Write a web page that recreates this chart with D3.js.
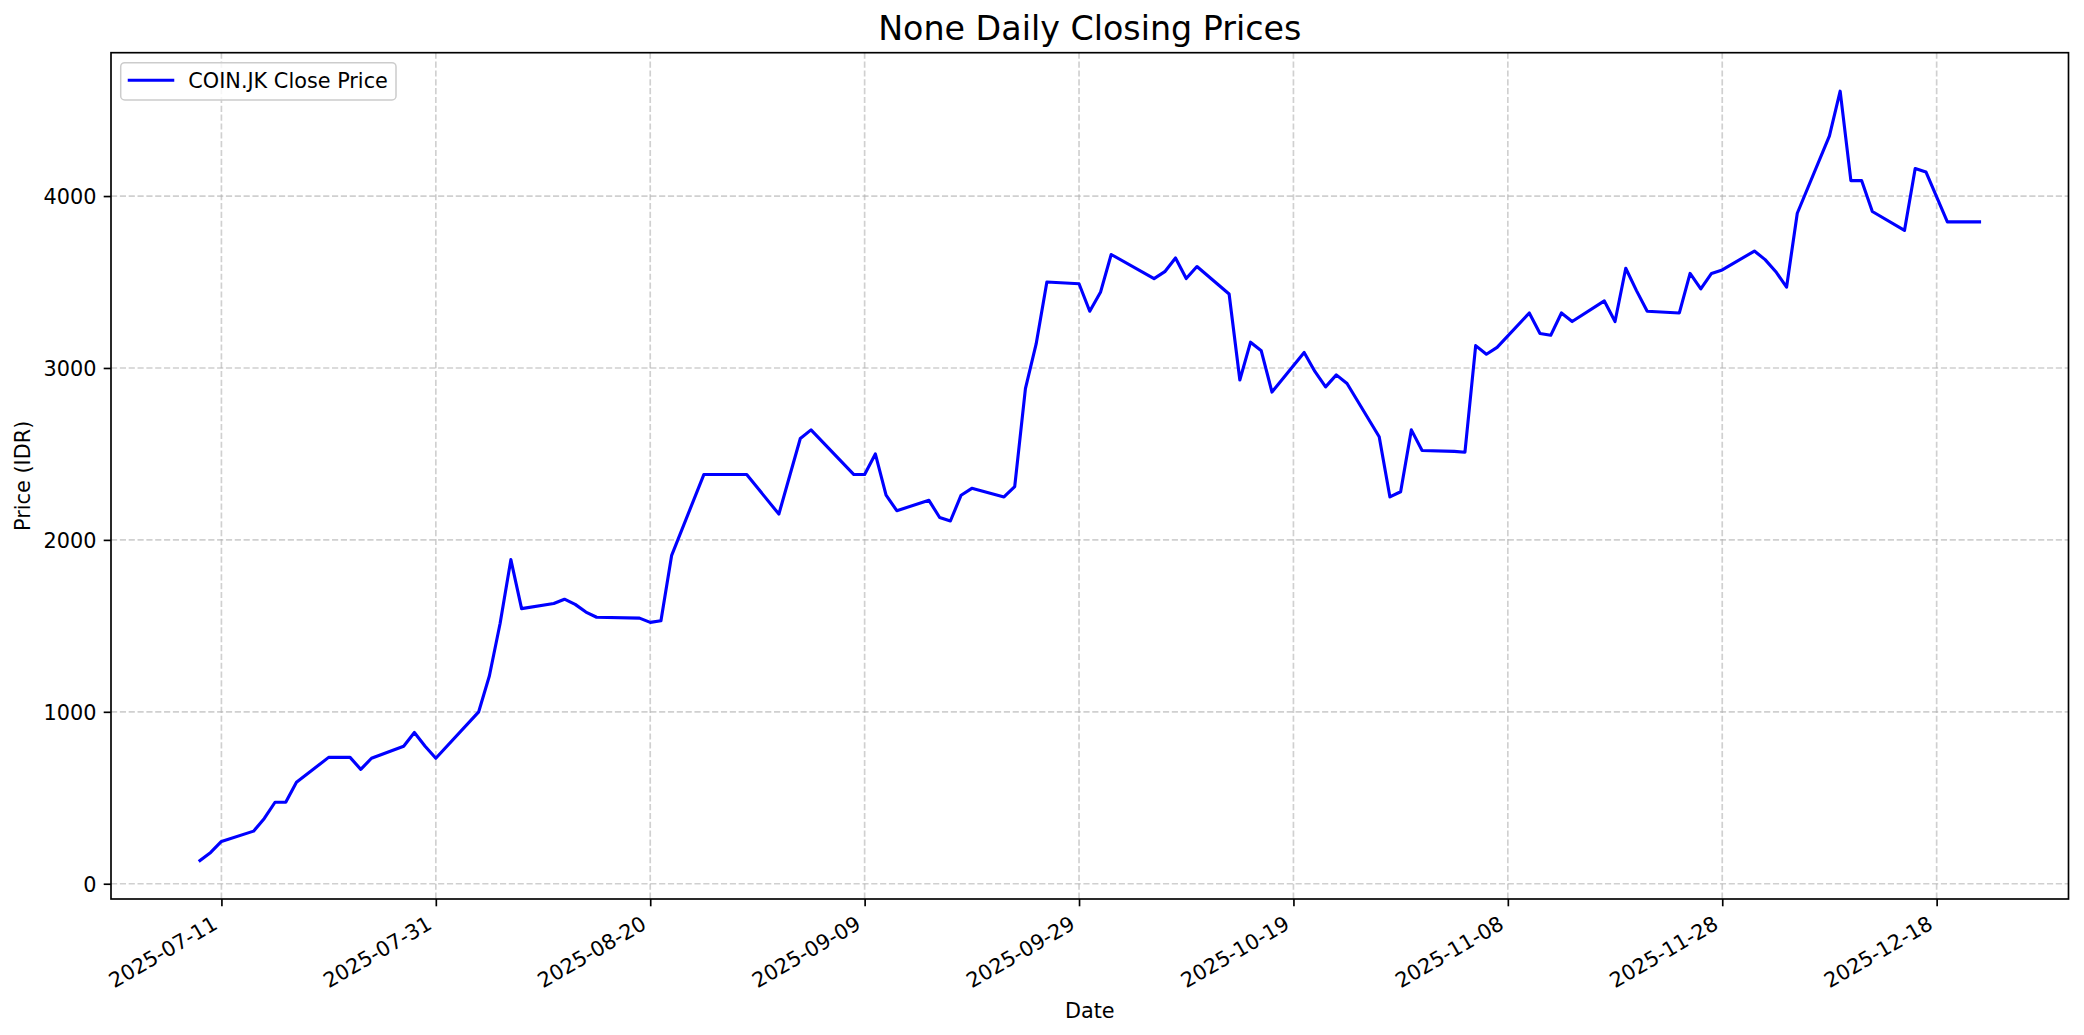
<!DOCTYPE html>
<html><head><meta charset="utf-8">
<script src="https://cdn.jsdelivr.net/npm/d3@7/dist/d3.min.js"></script>
<style>
body{margin:0;background:#fff;}
svg{display:block;}
text{font-family:"DejaVu Sans",sans-serif;fill:#000;}
</style>
</head><body>
<svg id="chart" width="2084" height="1035"></svg>
<script>
const titleText = "None Daily Closing Prices";
const seriesLabel = "COIN.JK Close Price";
const xLabel = "Date";
const yLabel = "Price (IDR)";

const dates = [
"2025-07-09","2025-07-10","2025-07-11","2025-07-14","2025-07-15","2025-07-16","2025-07-17","2025-07-18",
"2025-07-21","2025-07-22","2025-07-23","2025-07-24","2025-07-25","2025-07-28","2025-07-29","2025-07-30","2025-07-31",
"2025-08-04","2025-08-05","2025-08-06","2025-08-07","2025-08-08","2025-08-11","2025-08-12","2025-08-13","2025-08-14","2025-08-15",
"2025-08-19","2025-08-20","2025-08-21","2025-08-22","2025-08-25","2025-08-26","2025-08-27","2025-08-28","2025-08-29",
"2025-09-01","2025-09-02","2025-09-03","2025-09-04","2025-09-08","2025-09-09","2025-09-10","2025-09-11","2025-09-12",
"2025-09-15","2025-09-16","2025-09-17","2025-09-18","2025-09-19","2025-09-22","2025-09-23","2025-09-24","2025-09-25","2025-09-26",
"2025-09-29","2025-09-30","2025-10-01","2025-10-02","2025-10-06","2025-10-07","2025-10-08","2025-10-09","2025-10-10",
"2025-10-13","2025-10-14","2025-10-15","2025-10-16","2025-10-17","2025-10-20","2025-10-21","2025-10-22","2025-10-23","2025-10-24",
"2025-10-27","2025-10-28","2025-10-29","2025-10-30","2025-10-31","2025-11-03","2025-11-04","2025-11-05","2025-11-06","2025-11-07",
"2025-11-10","2025-11-11","2025-11-12","2025-11-13","2025-11-14","2025-11-17","2025-11-18","2025-11-19","2025-11-20","2025-11-21",
"2025-11-24","2025-11-25","2025-11-26","2025-11-27","2025-11-28","2025-12-01","2025-12-02","2025-12-03","2025-12-04","2025-12-05",
"2025-12-08","2025-12-09","2025-12-10","2025-12-11","2025-12-12","2025-12-15","2025-12-16","2025-12-17","2025-12-18","2025-12-19",
"2025-12-22"
];

const closes = [
135,182,246,306,380,474,474,590,
735,735,735,665,730,800,880,800,730,
1000,1210,1515,1885,1600,1630,1655,1625,1580,1550,
1545,1520,1530,1910,2380,2380,2380,2380,2380,
2150,2370,2590,2640,2380,2380,2500,2260,2170,
2230,2130,2110,2260,2300,2250,2310,2880,3140,3500,
3490,3330,3440,3660,3520,3560,3640,3520,3590,
3430,2930,3150,3100,2860,3090,2980,2890,2960,2910,
2600,2250,2280,2640,2520,2515,2510,3130,3080,3120,
3320,3200,3190,3320,3270,3390,3270,3580,3450,3330,
3320,3550,3460,3550,3570,3680,3630,3560,3470,3900,
4350,4610,4090,4090,3910,3800,4160,4140,3995,3850,
3850
];

const yTickValues = [0, 1000, 2000, 3000, 4000];
const xTickLabels = ["2025-07-11","2025-07-31","2025-08-20","2025-09-09","2025-09-29","2025-10-19","2025-11-08","2025-11-28","2025-12-18"];

const parse = d3.utcParse("%Y-%m-%d");
const data = dates.map((d, i) => ({date: parse(d), value: closes[i]}));

const plot = {left: 111, right: 2068.5, top: 52.7, bottom: 899};

const [dMin, dMax] = d3.extent(data, d => d.date);
const dPad = (dMax - dMin) * 0.05;
const x = d3.scaleUtc()
  .domain([new Date(+dMin - dPad), new Date(+dMax + dPad)])
  .range([plot.left, plot.right]);

const [vMin, vMax] = d3.extent(data, d => d.value);
const vPad = (vMax - vMin) * 0.05;
const y = d3.scaleLinear()
  .domain([vMin - vPad, vMax + vPad])
  .range([plot.bottom, plot.top]);

const svg = d3.select("#chart");
svg.append("rect").attr("width", 2084).attr("height", 1035).attr("fill", "#fff");

const xTicks = xTickLabels.map(parse);

// grid
const grid = svg.append("g").attr("stroke", "#b0b0b0").attr("stroke-opacity", 0.6)
  .attr("stroke-width", 1.67).attr("stroke-dasharray", "6.17,2.67");
grid.selectAll("line.v").data(xTicks).join("line").attr("class", "v")
  .attr("x1", d => x(d)).attr("x2", d => x(d))
  .attr("y1", plot.top).attr("y2", plot.bottom);
grid.selectAll("line.h").data(yTickValues).join("line").attr("class", "h")
  .attr("x1", plot.left).attr("x2", plot.right)
  .attr("y1", d => y(d)).attr("y2", d => y(d));

// line
const line = d3.line().x(d => x(d.date)).y(d => y(d.value));
svg.append("path").datum(data)
  .attr("d", line)
  .attr("fill", "none")
  .attr("stroke", "#0000ff")
  .attr("stroke-width", 3.125)
  .attr("stroke-linejoin", "round")
  .attr("stroke-linecap", "square");

// axes with d3
const yAxis = d3.axisLeft(y).tickValues(yTickValues).tickSize(7.3).tickPadding(7.3).tickFormat(d3.format("d"));
const yg = svg.append("g").attr("transform", `translate(${plot.left},0)`).call(yAxis);
yg.select(".domain").remove();
yg.selectAll(".tick line").attr("stroke", "#000").attr("stroke-width", 1.67);
yg.selectAll(".tick text").attr("font-size", 20.8).attr("font-family", "DejaVu Sans").attr("fill", "#000").attr("dy", "0.36em");

const xAxis = d3.axisBottom(x).tickValues(xTicks).tickSize(7.3).tickFormat(d3.utcFormat("%Y-%m-%d"));
const xg = svg.append("g").attr("transform", `translate(0,${plot.bottom})`).call(xAxis);
xg.select(".domain").remove();
xg.selectAll(".tick line").attr("stroke", "#000").attr("stroke-width", 1.67);
xg.selectAll(".tick text")
  .attr("font-size", 20.8).attr("font-family", "DejaVu Sans").attr("fill", "#000")
  .attr("text-anchor", "end").attr("dy", null).attr("y", null)
  .attr("transform", "translate(-3,29) rotate(-30)");

// spines
svg.append("rect")
  .attr("x", plot.left).attr("y", plot.top)
  .attr("width", plot.right - plot.left).attr("height", plot.bottom - plot.top)
  .attr("fill", "none").attr("stroke", "#000").attr("stroke-width", 1.67);

// labels
svg.append("text").attr("x", (plot.left + plot.right) / 2).attr("y", 40)
  .attr("text-anchor", "middle").attr("font-size", 33.3).text(titleText);
svg.append("text").attr("x", (plot.left + plot.right) / 2).attr("y", 1017.6)
  .attr("text-anchor", "middle").attr("font-size", 20.8).text(xLabel);
svg.append("text").attr("transform", `translate(30,${(plot.top + plot.bottom) / 2}) rotate(-90)`)
  .attr("text-anchor", "middle").attr("font-size", 20.8).text(yLabel);

// legend
const lg = svg.append("g");
lg.append("rect").attr("x", 120.7).attr("y", 62.7).attr("width", 275.3).attr("height", 37.3)
  .attr("rx", 4).attr("fill", "#fff").attr("fill-opacity", 0.8)
  .attr("stroke", "#cccccc").attr("stroke-width", 1.5);
lg.append("line").attr("x1", 129.3).attr("x2", 172.7).attr("y1", 80.3).attr("y2", 80.3)
  .attr("stroke", "#0000ff").attr("stroke-width", 3.125).attr("stroke-linecap", "square");
lg.append("text").attr("x", 188.3).attr("y", 87.8).attr("font-size", 20.8).text(seriesLabel);
</script>
</body></html>
